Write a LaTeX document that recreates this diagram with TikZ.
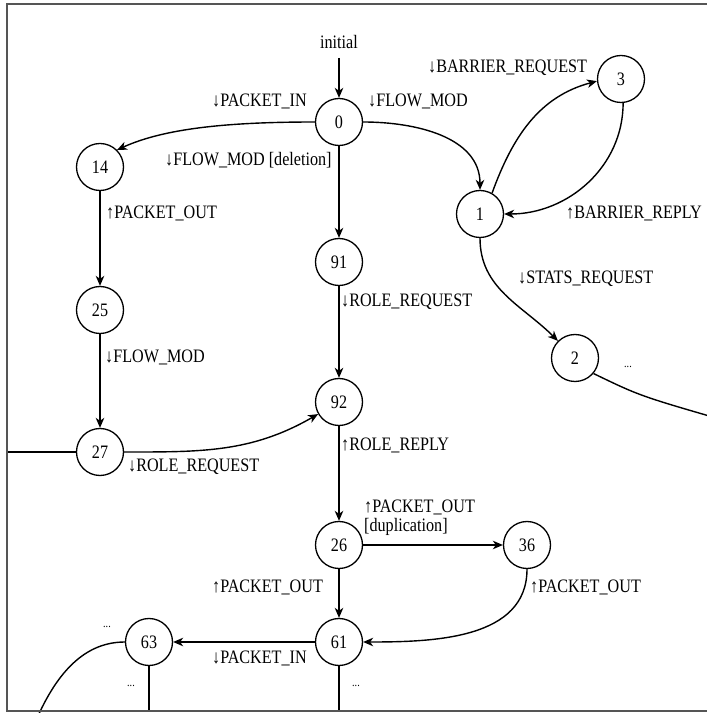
\documentclass[tikz,border=0pt]{standalone}
\usepackage{fontspec}
\setmainfont{Liberation Serif}[FakeStretch=0.85]
\usetikzlibrary{arrows.meta}
\definecolor{framegray}{HTML}{555555}
\begin{document}
\begin{tikzpicture}[x=1pt,y=1pt,
  state/.style={circle,draw,line width=1.3pt,minimum size=47pt,inner sep=0pt,
    font=\fontsize{19}{22}\selectfont},
  lbl/.style={inner sep=0pt,anchor=west,font=\fontsize{19}{22}\selectfont},
  dots/.style={inner sep=0pt,font=\fontsize{12}{14}\selectfont},
  edge/.style={line width=1.4pt,-{Stealth[length=10pt,width=8.5pt,inset=3pt]}},
  plain/.style={line width=1.4pt},
  framestyle/.style={draw=framegray,line width=1.5pt},
]
\useasboundingbox (0,0) rectangle (707,713);
\begin{scope}
\clip (0,0) rectangle (707,713);

% states
\node[state] (n0)  at (339,591) {0};
\node[state] (n14) at (100,546) {14};
\node[state] (n1)  at (480,499) {1};
\node[state] (n3)  at (621,634) {3};
\node[state] (n91) at (339,451) {91};
\node[state] (n25) at (100,403) {25};
\node[state] (n2)  at (575,355) {2};
\node[state] (n92) at (339,311) {92};
\node[state] (n27) at (100,261) {27};
\node[state] (n26) at (339,168) {26};
\node[state] (n36) at (527,168) {36};
\node[state] (n61) at (339,71)  {61};
\node[state] (n63) at (149,71)  {63};

% loose ends of connectors
\coordinate (init) at (339,655);
\coordinate (offR) at (730,291);
\coordinate (offL) at (7,261);
\coordinate (offBL) at (32,-17);
\coordinate (outA) at (149,2);
\coordinate (outB) at (339,2);

% transitions
\draw[edge] (init) -- (n0);
\draw[edge] (n0.west) .. controls (230,591) and (165,585) .. (n14.45);
\draw[edge] (n0.east) to[out=0,in=90] (n1.north);
\draw[edge] (n0) -- (n91);
\draw[edge] (n1.60) to[out=70,in=195] (n3.185);
\draw[edge] (n3.-85) to[out=-90,in=0] (n1.east);
\draw[edge] (n1.south) to[out=-90,in=135] (n2.135);
\draw[plain] (n2.-40) .. controls (640,317) .. (offR);
\draw[edge] (n14) -- (n25);
\draw[edge] (n25) -- (n27);
\draw[plain] (offL) -- (n27.west);
\draw[edge] (n27.east) to[out=0,in=210] (n92.210);
\draw[edge,line width=1.8pt] (n91) -- (n92);
\draw[edge] (n92) -- (n26);
\draw[edge] (n26) -- (n36);
\draw[edge] (n26) -- (n61);
\draw[edge] (n36.south) to[out=-90,in=0] (n61.east);
\draw[edge] (n61) -- (n63);
\draw[plain] (n63.west) .. controls (80,71) and (52,33) .. (offBL);
\draw[plain] (n63.south) -- (outA);
\draw[plain] (n61.south) -- (outB);

% labels
\node[inner sep=0pt,font=\fontsize{19}{22}\selectfont] (tinit) at (339,671) {initial};
\node[lbl] (l1)  at (212,612) {↓PACKET\_IN};
\node[lbl] (l2)  at (368,612) {↓FLOW\_MOD};
\node[lbl] (l3)  at (165,553) {↓FLOW\_MOD [deletion]};
\node[lbl] (l4)  at (428,645) {↓BARRIER\_REQUEST};
\node[lbl] (l5)  at (566,500) {↑BARRIER\_REPLY};
\node[lbl] (l6)  at (106,500) {↑PACKET\_OUT};
\node[lbl] (l7)  at (518,434) {↓STATS\_REQUEST};
\node[lbl] (l8)  at (341,411) {↓ROLE\_REQUEST};
\node[lbl] (l9)  at (105,356) {↓FLOW\_MOD};
\node[lbl] (l10) at (341,268) {↑ROLE\_REPLY};
\node[lbl] (l11) at (128,246) {↓ROLE\_REQUEST};
\node[lbl] (l12) at (364,206) {↑PACKET\_OUT};
\node[lbl] (l13) at (364,186) {[duplication]};
\node[lbl] (l14) at (212,126) {↑PACKET\_OUT};
\node[lbl] (l15) at (530,126) {↑PACKET\_OUT};
\node[lbl] (l16) at (212,55)  {↓PACKET\_IN};
\node[dots] (d1) at (628,346) {...};
\node[dots] (d2) at (107,86)  {...};
\node[dots] (d3) at (131,27)  {...};
\node[dots] (d4) at (356,27)  {...};

% frame
\draw[framestyle] (720,709) -- (7,709) -- (7,2) -- (720,2);
\end{scope}
\end{tikzpicture}
\end{document}
